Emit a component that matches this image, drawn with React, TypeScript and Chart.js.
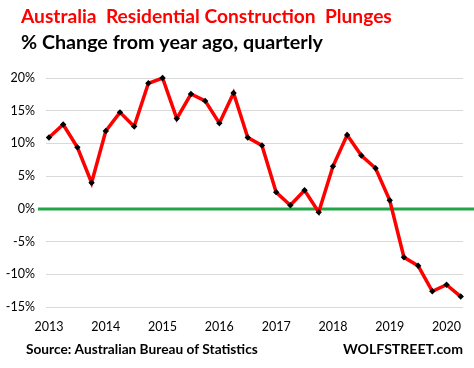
import React, { useEffect, useRef } from 'react';
import { Chart, registerables } from 'chart.js';

Chart.register(...registerables);

// Quarterly % change from year ago, Q1 2013 .. Q2 2020
const quarters = [
  '2013 Q1', '2013 Q2', '2013 Q3', '2013 Q4',
  '2014 Q1', '2014 Q2', '2014 Q3', '2014 Q4',
  '2015 Q1', '2015 Q2', '2015 Q3', '2015 Q4',
  '2016 Q1', '2016 Q2', '2016 Q3', '2016 Q4',
  '2017 Q1', '2017 Q2', '2017 Q3', '2017 Q4',
  '2018 Q1', '2018 Q2', '2018 Q3', '2018 Q4',
  '2019 Q1', '2019 Q2', '2019 Q3', '2019 Q4',
  '2020 Q1', '2020 Q2',
];
const changePct = [
  10.9, 12.9, 9.4, 4.0,
  11.9, 14.75, 12.6, 19.2,
  20.0, 13.8, 17.55, 16.5,
  13.1, 17.7, 10.9, 9.7,
  2.55, 0.55, 2.85, -0.5,
  6.5, 11.3, 8.15, 6.2,
  1.3, -7.4, -8.7, -12.6,
  -11.6, -13.4,
];
const yearLabels = ['2013', '2014', '2015', '2016', '2017', '2018', '2019', '2020'];
const title = 'Australia  Residential Construction  Plunges';
const subtitle = '% Change from year ago, quarterly';
const sourceText = 'Source: Australian Bureau of Statistics';
const brandText = 'WOLFSTREET.com';

const FONT = 'Lato, "Open Sans", sans-serif';

function fitText(ctx: CanvasRenderingContext2D, text: string, x: number, y: number, width: number, weight: string, color: string) {
  ctx.font = `${weight} 20px ${FONT}`;
  const w = ctx.measureText(text).width;
  const size = (20 * width) / w;
  ctx.font = `${weight} ${size.toFixed(2)}px ${FONT}`;
  ctx.fillStyle = color;
  ctx.textBaseline = 'alphabetic';
  ctx.textAlign = 'left';
  ctx.fillText(text, x, y);
}

const decorPlugin = {
  id: 'decor',
  beforeDatasetsDraw(chart: any) {
    const { ctx, chartArea, scales } = chart;
    const y0 = Math.round(scales.y.getPixelForValue(0));
    ctx.save();
    ctx.strokeStyle = '#22a547';
    ctx.lineWidth = 3;
    ctx.beginPath();
    ctx.moveTo(chartArea.left - 8, y0);
    ctx.lineTo(chart.width, y0);
    ctx.stroke();
    ctx.restore();
  },
  afterDraw(chart: any) {
    const ctx = chart.ctx as CanvasRenderingContext2D;
    ctx.save();
    fitText(ctx, title, 21, 23, 371, 'bold', '#ff0000');
    fitText(ctx, subtitle, 21, 49, 302, 'bold', '#000000');
    fitText(ctx, sourceText, 26, 354, 232, 'bold', '#000000');
    fitText(ctx, brandText, 343, 354, 120, 'bold', '#000000');
    ctx.restore();
  },
};

export default function App() {
  const ref = useRef<HTMLCanvasElement | null>(null);
  useEffect(() => {
    if (!ref.current) return;
    const chart = new Chart(ref.current, {
      type: 'line',
      data: {
        labels: quarters,
        datasets: [
          {
            label: '% change',
            data: changePct.map((v, i) => ({ x: i, y: v })),
            borderColor: '#ff0000',
            borderWidth: 3.5,
            pointStyle: 'rectRot',
            pointRadius: 3.2,
            pointBackgroundColor: '#000000',
            pointBorderColor: '#000000',
            pointBorderWidth: 0,
            tension: 0,
            clip: false,
          },
        ],
      },
      options: {
        animation: false,
        responsive: false,
        devicePixelRatio: 1,
        layout: { padding: { top: 78, left: 0, right: 11, bottom: 0 } },
        plugins: { legend: { display: false }, tooltip: { enabled: false }, title: { display: false } },
        scales: {
          x: {
            type: 'linear',
            min: -0.21,
            max: 29.16,
            grid: { display: false },
            border: { display: false },
            afterBuildTicks: (scale: any) => {
              scale.ticks = yearLabels.map((_, i) => ({ value: i * 4 }));
            },
            afterFit: (scale: any) => {
              scale.height = 61;
            },
            ticks: {
              autoSkip: false,
              maxRotation: 0,
              padding: 4,
              color: '#000000',
              font: { family: FONT, size: 12.5 },
              callback: (v: any) => yearLabels[Math.round(Number(v) / 4)] ?? '',
            },
          },
          y: {
            min: -15,
            max: 20,
            grid: {
              drawTicks: false,
              color: (c: any) => (c.tick && c.tick.value === 0 ? 'rgba(0,0,0,0)' : '#d9d9d9'),
              lineWidth: 1,
            },
            border: { display: false },
            afterFit: (scale: any) => {
              scale.width = 46;
            },
            ticks: {
              stepSize: 5,
              padding: 11,
              color: '#000000',
              font: { family: FONT, size: 12.5 },
              callback: (v: any) => `${v}%`,
            },
          },
        },
      },
      plugins: [decorPlugin],
    } as any);
    return () => chart.destroy();
  }, []);
  return (
    <div style={{ position: 'absolute', left: 0, top: 0, width: 474, height: 368, background: '#ffffff' }}>
      <canvas ref={ref} width={474} height={368} />
    </div>
  );
}
